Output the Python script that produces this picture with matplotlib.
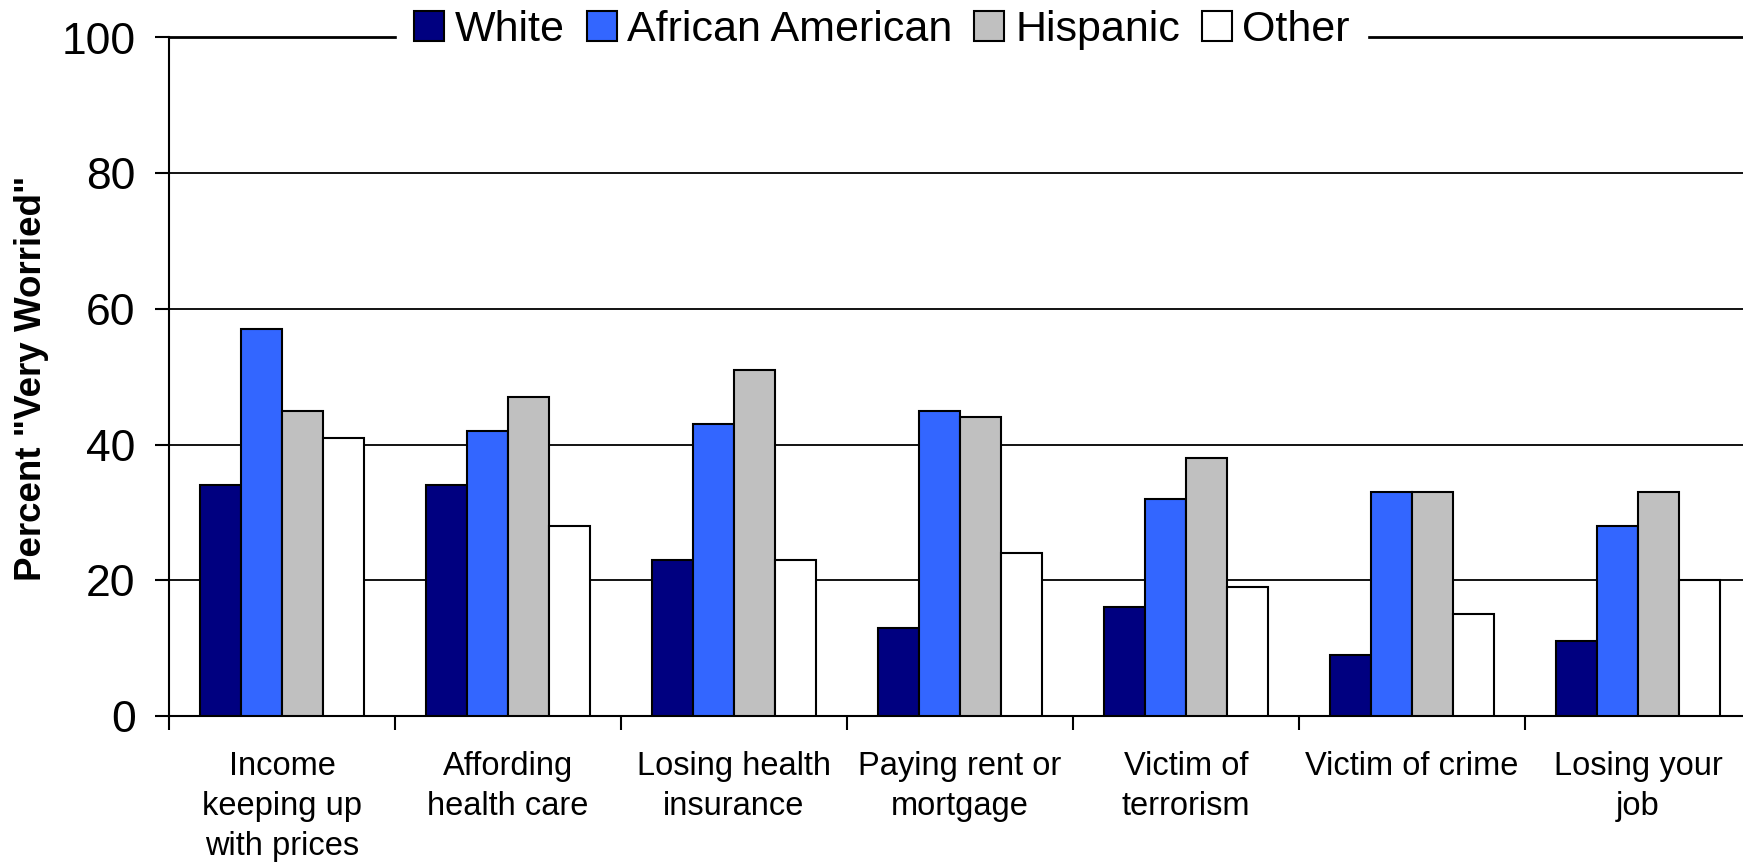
import matplotlib
matplotlib.use("Agg")
import matplotlib.pyplot as plt
import numpy as np

categories = ["Income\nkeeping up\nwith prices", "Affording\nhealth care", "Losing health\ninsurance",
              "Paying rent or\nmortgage", "Victim of\nterrorism", "Victim of crime", "Losing your\njob"]
series_names = ["White", "African American", "Hispanic", "Other"]
white = [34, 34, 23, 13, 16, 9, 11]
african_american = [57, 42, 43, 45, 32, 33, 28]
hispanic = [45, 47, 51, 44, 38, 33, 33]
other = [41, 28, 23, 24, 19, 15, 20]
colors = ["#000080", "#3366FF", "#C0C0C0", "#FFFFFF"]
yticks = [0, 20, 40, 60, 80, 100]

plt.rcParams['font.family'] = ['Liberation Sans', 'DejaVu Sans']

W, H = 1743, 863
fig = plt.figure(figsize=(W / 100, H / 100), dpi=100)
ax = fig.add_axes([169 / W, 1 - 716 / H, (1751 - 169) / W, (716 - 37.5) / H])

n = len(categories)
x = np.arange(n)
bw = 0.182
data = [white, african_american, hispanic, other]
handles = []
for i, (vals, c, name) in enumerate(zip(data, colors, series_names)):
    b = ax.bar(x + (i - 1.5) * bw, vals, width=bw, color=c, edgecolor="black",
               linewidth=1.5, zorder=3, label=name)
    handles.append(b)

ax.set_xlim(-0.5, n - 0.5)
ax.set_ylim(0, 100)
ax.set_yticks(yticks)
ax.set_yticklabels([str(t) for t in yticks], fontsize=32)
for t in [20, 40, 60, 80]:
    ax.axhline(t, color="black", linewidth=1.3, zorder=1)

ax.set_xticks(x)
ax.set_xticklabels(categories, fontsize=23.5, linespacing=1.39)
ax.set_xticks(np.arange(n + 1) - 0.5, minor=True)
ax.tick_params(axis="x", which="major", length=0, pad=25)
ax.tick_params(axis="x", which="minor", length=10, width=1.5, direction="out")
ax.tick_params(axis="y", length=10, width=1.5, direction="out", pad=14)

ax.spines["right"].set_visible(False)
ax.spines["left"].set_linewidth(1.5)
ax.spines["bottom"].set_linewidth(1.5)
ax.spines["top"].set_linewidth(2.0)

fig.text(32 / W, 1 - 378 / H, 'Percent "Very Worried"', fontsize=26.5, fontweight="bold",
         rotation=90, ha="center", va="center")

leg = fig.legend(handles=handles, labels=series_names, loc="center",
                 bbox_to_anchor=(882 / W, 1 - 30 / H), ncol=4, frameon=True,
                 fontsize=31, handlelength=0.7, handleheight=0.7,
                 handletextpad=0.25, columnspacing=0.5, borderpad=0.1,
                 borderaxespad=0)
leg.get_frame().set_edgecolor("white")
leg.get_frame().set_facecolor("white")
leg.get_frame().set_alpha(1)
leg.get_frame().set_boxstyle("square", pad=0.3)

fig.savefig("out.png", dpi=100)
